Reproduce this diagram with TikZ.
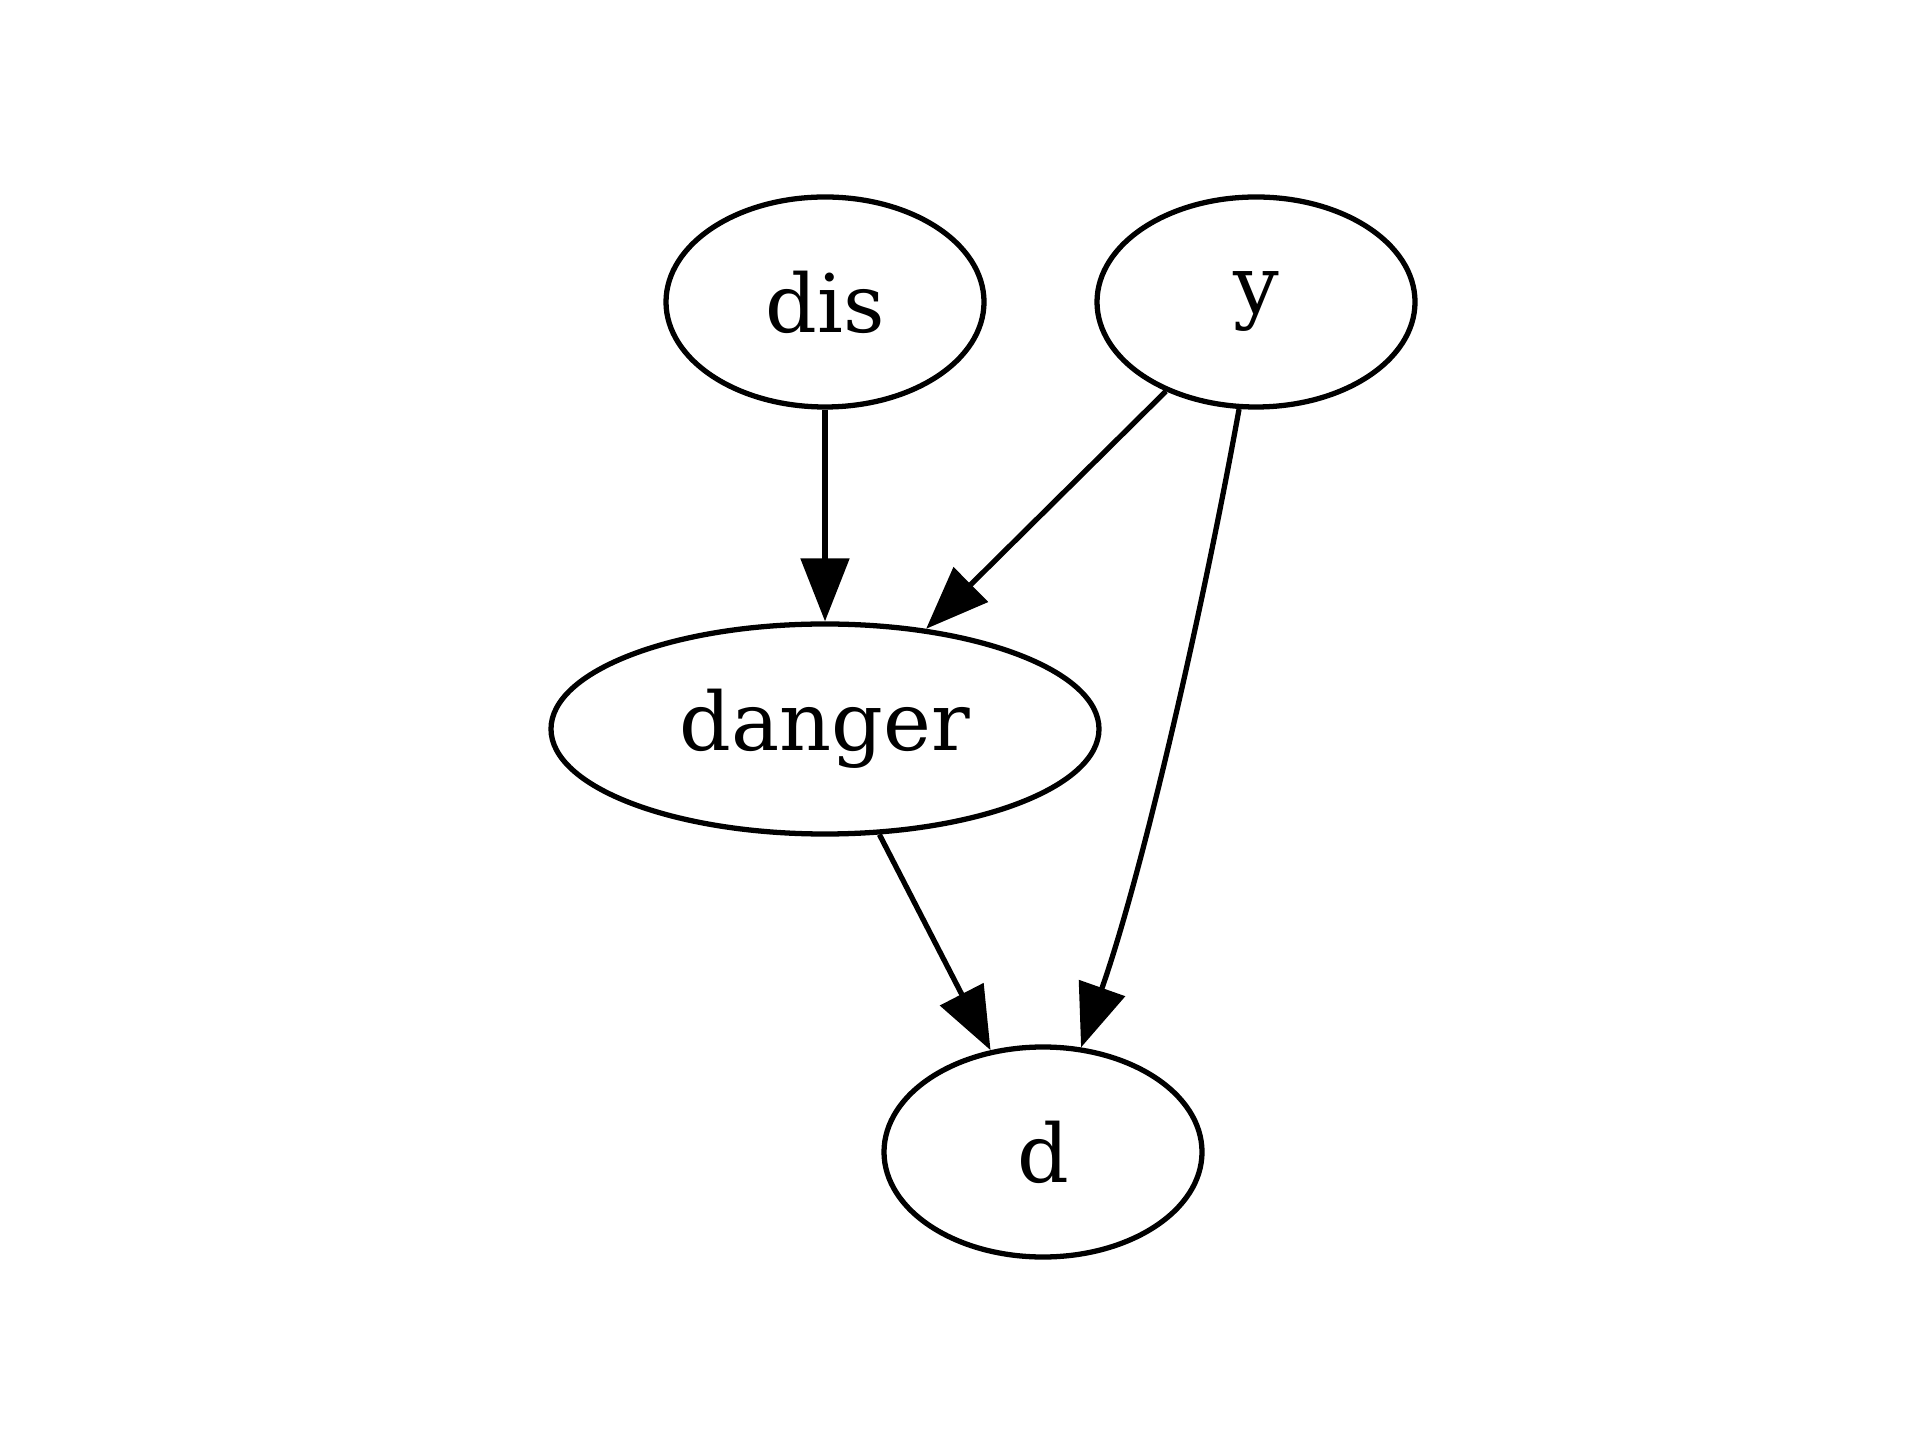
\documentclass[tikz,border=0pt]{standalone}
\usepackage{fontspec}
\setmainfont{DejaVu Serif}
\usetikzlibrary{shapes.geometric,arrows.meta}

\begin{document}
\begin{tikzpicture}[-{Triangle[length=0.63cm,width=0.48cm]}, line width=1.5pt]
			\tikzstyle{var} = [ellipse,draw,minimum width=3.18cm,minimum height=2.1cm,inner sep=0pt,font=\fontsize{23}{27}\selectfont]
			\useasboundingbox (0,0) rectangle (19.2,14.4);
			
			\node[var] (dis) at (8.25,11.38) {dis};
			\node[var] (y) at (12.56,11.38) {y};
			\node[var,minimum width=5.48cm] (danger) at (8.25,7.11) {danger};
			\node[var] (d) at (10.43,2.88) {d};
			
			\path (dis) edge (danger);
			\path (y) edge (danger);
			\path (danger) edge (d);
			\draw (y.261) .. controls +(-0.38,-2.1) and +(0.6,1.7) .. (d.70);
		\end{tikzpicture}
\end{document}
